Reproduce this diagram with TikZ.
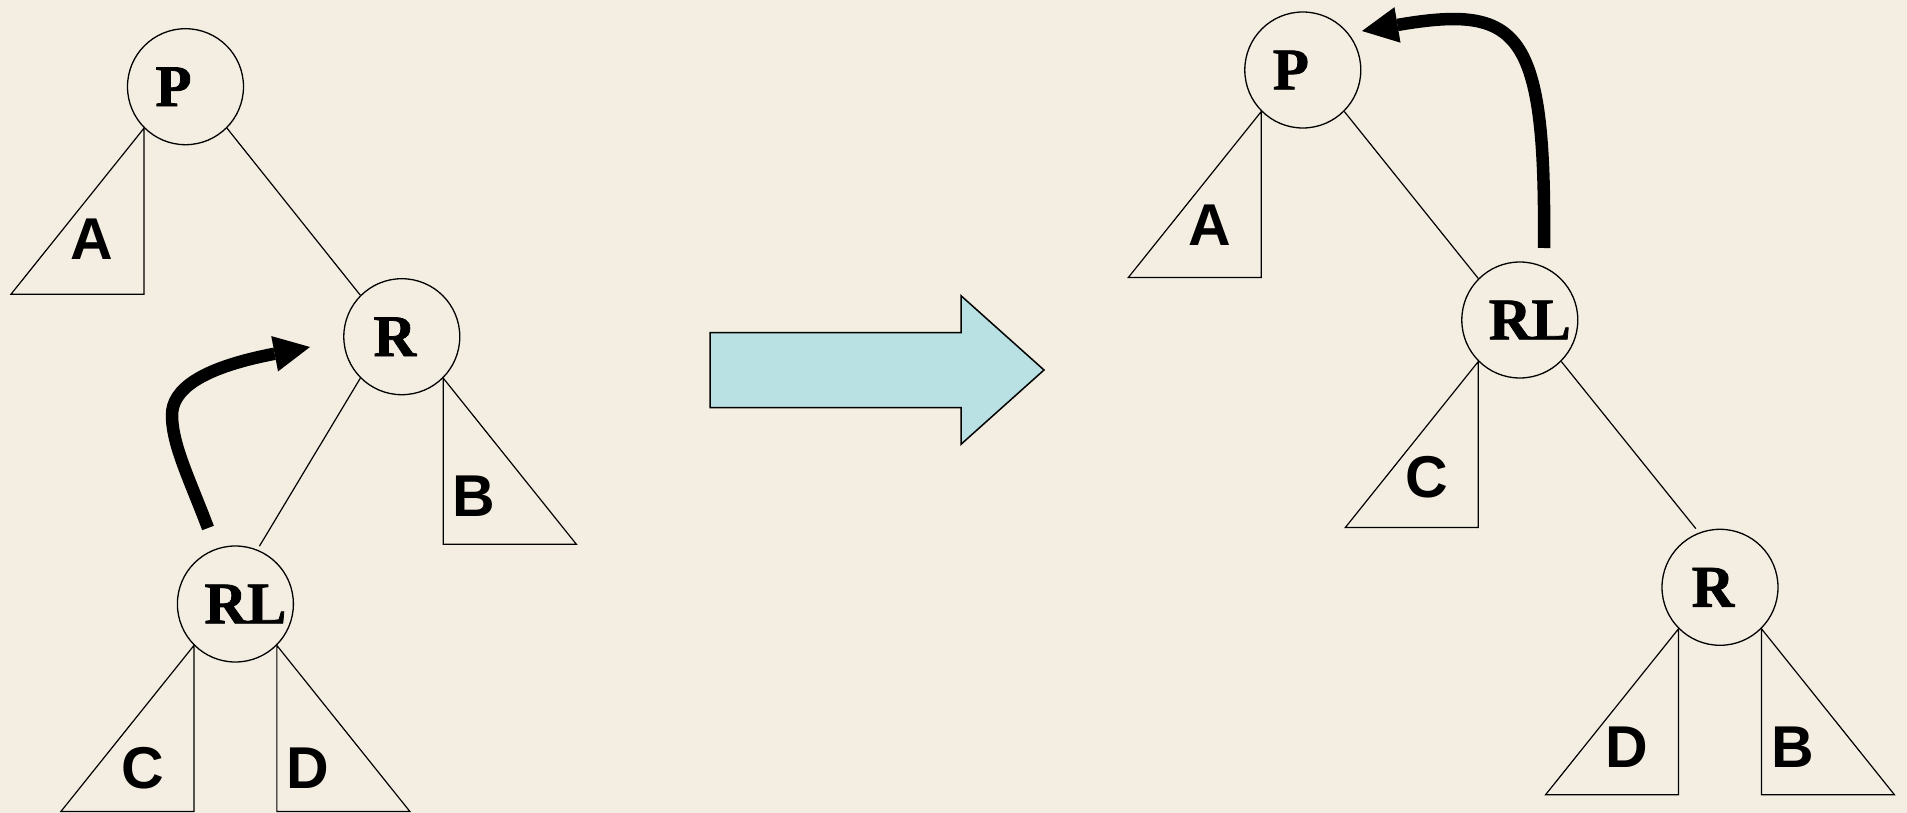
\documentclass[tikz,border=0pt]{standalone}
\usepackage{fontspec}
\newfontfamily\nodefont{Liberation Serif}[BoldFeatures={FakeBold=1.3}]
\newfontfamily\subfont{Liberation Sans}
\usetikzlibrary{arrows.meta,calc}
\definecolor{paper}{HTML}{F4EEE2}
\definecolor{arrowblue}{HTML}{B9E0E3}
\begin{document}
\begin{tikzpicture}[x=1pt,y=-1pt,
  treenode/.style={draw, circle, line width=1.3pt, minimum size=116pt, inner sep=0pt,
    font=\nodefont\bfseries\fontsize{59}{59}\selectfont},
  subtree/.style={draw, line width=1.2pt, line join=miter},
  sublabel/.style={inner sep=0pt, font=\subfont\bfseries\fontsize{59}{59}\selectfont},
  edge/.style={draw, line width=1.2pt},
  rot/.style={line width=12.5pt, -{Triangle[length=36pt,width=36pt,line width=0pt]}},
  bigarrow/.style={draw, fill=arrowblue, line width=1.5pt, line join=miter}]
\useasboundingbox (0,0) rectangle (1907,813);
\fill[paper] (0,0) rectangle (1907,813);

% ---------- left tree ----------
\node[treenode] (P1) at (185.5,86.7) {\hspace*{-24pt}P};
\node[treenode] (R1) at (401.8,336.7) {\hspace*{-14pt}R};
\node[treenode] (RL1) at (235.4,604) {RL\hspace*{-20pt}};
\draw[edge] (P1.south east) -- (R1.north west);
\draw[edge, shorten >=4pt] (R1.south west) -- (RL1.68);

\draw[subtree] (P1.south west) -- ++(0,166) -- ++(-133,0) -- cycle;
\node[sublabel] (A1) at ($(P1.south west)+(-52,111)$) {A};
\draw[subtree] (R1.south east) -- ++(0,166) -- ++(133,0) -- cycle;
\node[sublabel] (B1) at ($(R1.south east)+(31,118)$) {B};
\draw[subtree] (RL1.south west) -- ++(0,166) -- ++(-133,0) -- cycle;
\node[sublabel] (C1) at ($(RL1.south west)+(-51,123)$) {C};
\draw[subtree] (RL1.south east) -- ++(0,166) -- ++(133,0) -- cycle;
\node[sublabel] (D1) at ($(RL1.south east)+(31,123)$) {D};

\coordinate (t1) at (208,528);
\coordinate (h1) at (310,347);
\draw[rot] (t1) .. controls (190,480) and (172,445) .. (172,415)
  .. controls (172,390) and (200,368) .. (h1);

% ---------- big arrow ----------
\draw[bigarrow] (710,332.7) -- (961,332.7) -- (961,295.7) -- (1044,370)
  -- (961,444.3) -- (961,407.7) -- (710,407.7) -- cycle;

% ---------- right tree ----------
\node[treenode] (P2) at (1302.8,70) {\hspace*{-24pt}P};
\node[treenode] (RL2) at (1519.8,320) {RL\hspace*{-20pt}};
\node[treenode] (R2) at (1720,587.3) {\hspace*{-14pt}R};
\draw[edge] (P2.south east) -- (RL2.north west);
\draw[edge, shorten >=5pt] (RL2.south east) -- (R2.111);

\draw[subtree] (P2.south west) -- ++(0,166) -- ++(-133,0) -- cycle;
\node[sublabel] (A2) at ($(P2.south west)+(-52,114)$) {A};
\draw[subtree] (RL2.south west) -- ++(0,166) -- ++(-133,0) -- cycle;
\node[sublabel] (C2) at ($(RL2.south west)+(-52,116)$) {C};
\draw[subtree] (R2.south west) -- ++(0,166) -- ++(-133,0) -- cycle;
\node[sublabel] (D2) at ($(R2.south west)+(-52,118)$) {D};
\draw[subtree] (R2.south east) -- ++(0,166) -- ++(133,0) -- cycle;
\node[sublabel] (B2) at ($(R2.south east)+(31,118)$) {B};

\coordinate (t2) at (1544,248);
\coordinate (h2) at (1362,31);
\draw[rot] (t2) .. controls (1546,30) and (1520,4) .. (h2);
\end{tikzpicture}
\end{document}
